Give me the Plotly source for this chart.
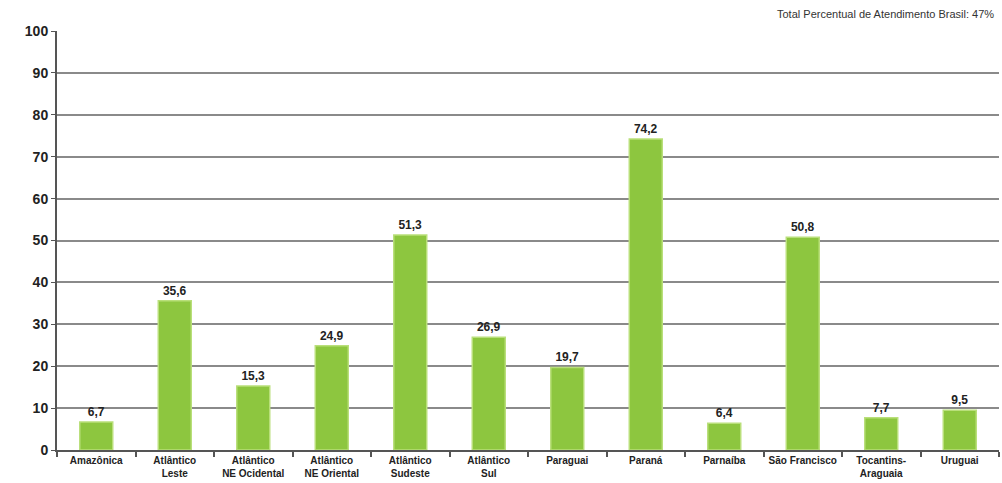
import plotly.graph_objects as go

# Percentual de atendimento por região hidrográfica
regioes = [
    "Amazônica", "Atlântico<br>Leste", "Atlântico<br>NE Ocidental", "Atlântico<br>NE Oriental",
    "Atlântico<br>Sudeste", "Atlântico<br>Sul", "Paraguai", "Paraná", "Parnaíba",
    "São Francisco", "Tocantins-<br>Araguaia", "Uruguai",
]
percentual = [6.7, 35.6, 15.3, 24.9, 51.3, 26.9, 19.7, 74.2, 6.4, 50.8, 7.7, 9.5]
rotulos = [f"{v:.1f}".replace(".", ",") for v in percentual]
y_ticks = list(range(0, 101, 10))

FONT = "Liberation Sans, Arial, sans-serif"

fig = go.Figure(
    go.Bar(
        x=regioes,
        y=percentual,
        text=rotulos,
        textposition="outside",
        textfont=dict(family=FONT, size=12, color="#222222", weight="bold"),
        cliponaxis=False,
        width=0.42,
        marker=dict(color="#8dc63f", line=dict(color="#b9df7a", width=1.5)),
    )
)

fig.update_layout(
    width=1002,
    height=483,
    margin=dict(l=57, r=3, t=31, b=33),
    plot_bgcolor="white",
    paper_bgcolor="white",
    showlegend=False,
    font=dict(family=FONT, color="#222222"),
    annotations=[
        dict(
            text="Total Percentual de Atendimento Brasil: 47%",
            xref="paper", yref="paper", x=0.997, y=1.0, yshift=17,
            xanchor="right", yanchor="middle", showarrow=False,
            font=dict(family=FONT, size=11, color="#333333"),
        )
    ],
)

fig.update_xaxes(
    type="category",
    showline=True, linecolor="#555555", linewidth=2,
    ticks="outside", tickson="boundaries", ticklen=5, tickcolor="#555555", tickwidth=2,
    tickfont=dict(family=FONT, size=10, color="#222222", weight="bold"),
    showgrid=False,
)
fig.update_yaxes(
    range=[0, 100],
    tickvals=y_ticks,
    showline=True, linecolor="#555555", linewidth=2,
    ticks="outside", ticklen=4, tickcolor="#555555", tickwidth=1,
    tickfont=dict(family=FONT, size=14, color="#222222", weight="bold"),
    showgrid=True, gridcolor="#8a8a8a", gridwidth=2,
    zeroline=False,
)

fig.write_html("out.html")
